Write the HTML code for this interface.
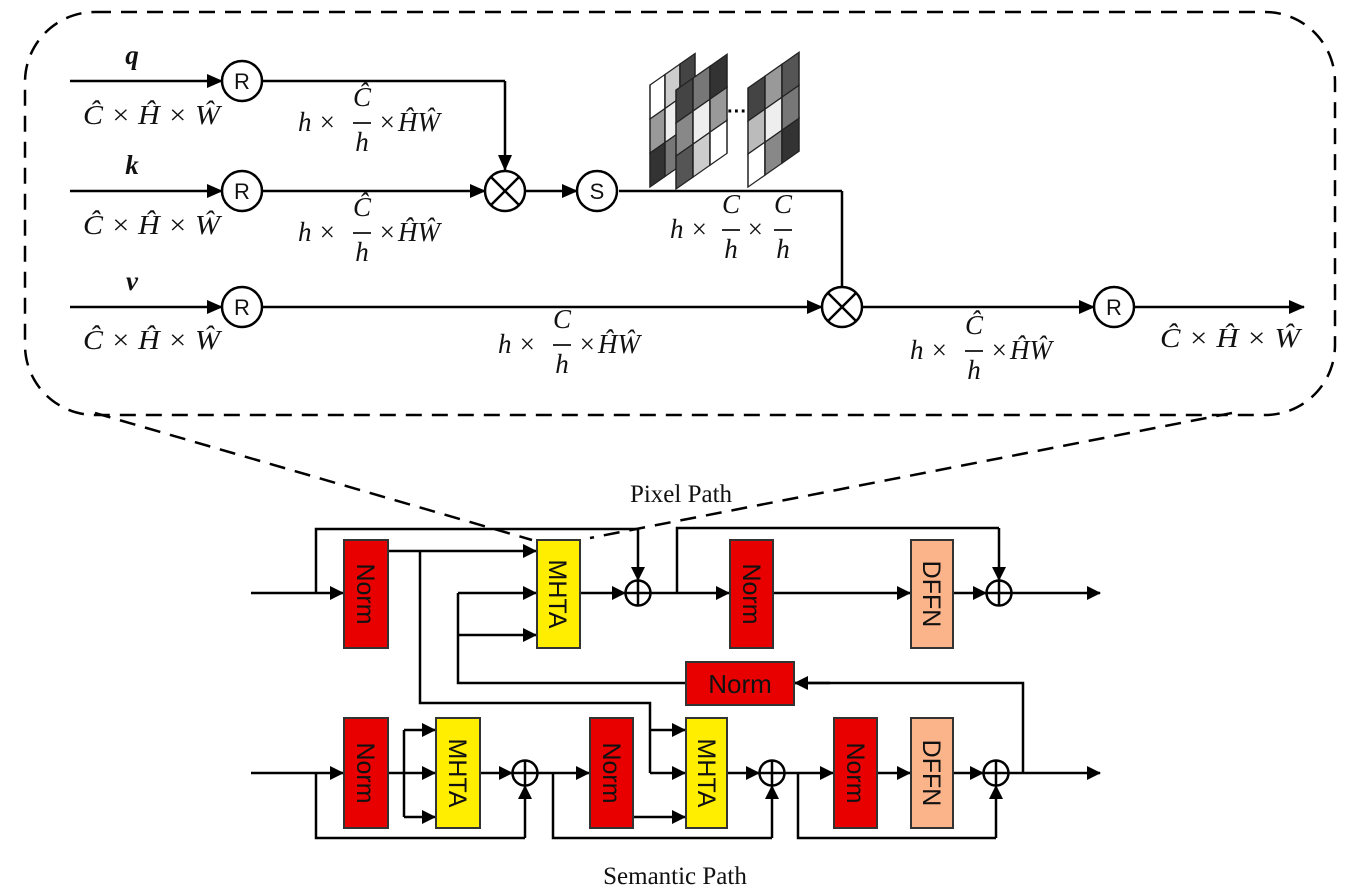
<!DOCTYPE html>
<html><head><meta charset="utf-8"><style>
html,body{margin:0;padding:0;background:#fff;}
svg{display:block;}
.m{font-family:"Liberation Serif",serif;font-style:italic;font-size:27px;fill:#111;}
.b{font-family:"Liberation Sans",sans-serif;font-size:22px;fill:#111;}
.t{font-family:"Liberation Serif",serif;font-size:25px;fill:#111;}
</style></head><body>
<svg width="1347" height="894" viewBox="0 0 1347 894" xmlns="http://www.w3.org/2000/svg">
<defs>
<marker id="a" markerWidth="16" markerHeight="16" refX="15" refY="8" orient="auto" markerUnits="userSpaceOnUse" viewBox="0 0 16 16">
<path d="M0,1 L16,8 L0,15 z" fill="#000"/></marker>
<marker id="s" markerWidth="14" markerHeight="14" refX="13" refY="7" orient="auto" markerUnits="userSpaceOnUse" viewBox="0 0 14 14">
<path d="M0,0 L14,7 L0,14 z" fill="#000"/></marker>
</defs>
<rect x="25" y="12" width="1310" height="403" rx="70" ry="70" fill="none" stroke="#000" stroke-width="2.5" stroke-dasharray="16,10"/>
<line x1="95" y1="413" x2="532" y2="540" stroke="#000" stroke-width="2.5" stroke-dasharray="16,10"/>
<line x1="1232" y1="413" x2="590" y2="538" stroke="#000" stroke-width="2.5" stroke-dasharray="16,10"/>

<g stroke="#000" stroke-width="2.5" fill="none">
<line x1="70" y1="81" x2="222" y2="81" marker-end="url(#a)"/>
<line x1="263" y1="81" x2="505" y2="81"/>
<line x1="505" y1="81" x2="505" y2="170" marker-end="url(#a)"/>
<line x1="70" y1="191" x2="222" y2="191" marker-end="url(#a)"/>
<line x1="263" y1="191" x2="485" y2="191" marker-end="url(#a)"/>
<line x1="526" y1="191" x2="577" y2="191" marker-end="url(#a)"/>
<line x1="619" y1="191" x2="842" y2="191"/>
<line x1="842" y1="191" x2="842" y2="287"/>
<line x1="70" y1="307" x2="222" y2="307" marker-end="url(#a)"/>
<line x1="263" y1="307" x2="822" y2="307" marker-end="url(#a)"/>
<line x1="863" y1="307" x2="1094" y2="307" marker-end="url(#a)"/>
<line x1="1135" y1="307" x2="1304" y2="307" marker-end="url(#a)"/>
<circle cx="242" cy="81" r="20"/><circle cx="242" cy="191" r="20"/><circle cx="242" cy="307" r="20"/>
<circle cx="597" cy="191" r="20"/><circle cx="1114" cy="307" r="20"/>
<circle cx="505" cy="191" r="20"/><circle cx="842" cy="307" r="20"/>
<path d="M491,177 L519,205 M519,177 L491,205"/>
<path d="M828,293 L856,321 M856,293 L828,321"/>
</g>
<g class="b" text-anchor="middle">
<text x="242" y="89">R</text><text x="242" y="199">R</text><text x="242" y="315">R</text>
<text x="597" y="199">S</text><text x="1114" y="315">R</text>
</g>
<text x="132" y="64" class="m" font-weight="bold" text-anchor="middle">q</text>
<text x="132" y="174" class="m" font-weight="bold" text-anchor="middle">k</text>
<text x="132" y="290" class="m" font-weight="bold" text-anchor="middle">v</text>
<g class="m" textLength="140">
<text x="83" y="124" textLength="137" lengthAdjust="spacingAndGlyphs">Ĉ × Ĥ × Ŵ</text>
<text x="83" y="234" textLength="137" lengthAdjust="spacingAndGlyphs">Ĉ × Ĥ × Ŵ</text>
<text x="83" y="349" textLength="137" lengthAdjust="spacingAndGlyphs">Ĉ × Ĥ × Ŵ</text>
<text x="1160" y="347" textLength="140" lengthAdjust="spacingAndGlyphs">Ĉ × Ĥ × Ŵ</text>
</g>

<g class="m">
<!-- q -->
<text x="298" y="131">h</text><text x="318" y="131">×</text><text x="362" y="106" text-anchor="middle">Ĉ</text><line x1="353" y1="123" x2="371" y2="123" stroke="#111" stroke-width="1.8"/><text x="362" y="151" text-anchor="middle">h</text><text x="378" y="131">×</text><text x="398" y="131">ĤŴ</text>
<!-- k -->
<text x="298" y="241">h</text><text x="318" y="241">×</text><text x="362" y="216" text-anchor="middle">Ĉ</text><line x1="353" y1="233" x2="371" y2="233" stroke="#111" stroke-width="1.8"/><text x="362" y="261" text-anchor="middle">h</text><text x="378" y="241">×</text><text x="398" y="241">ĤŴ</text>
<!-- S out -->
<text x="670" y="238">h</text><text x="690" y="238">×</text><text x="731" y="213" text-anchor="middle">C</text><line x1="722" y1="230" x2="740" y2="230" stroke="#111" stroke-width="1.8"/><text x="731" y="258" text-anchor="middle">h</text><text x="746" y="238">×</text><text x="783" y="213" text-anchor="middle">C</text><line x1="774" y1="230" x2="792" y2="230" stroke="#111" stroke-width="1.8"/><text x="783" y="258" text-anchor="middle">h</text>
<!-- v -->
<text x="498" y="353">h</text><text x="518" y="353">×</text><text x="562" y="328" text-anchor="middle">C</text><line x1="553" y1="345" x2="571" y2="345" stroke="#111" stroke-width="1.8"/><text x="562" y="373" text-anchor="middle">h</text><text x="578" y="353">×</text><text x="598" y="353">ĤŴ</text>
<!-- after otimes -->
<text x="910" y="359">h</text><text x="930" y="359">×</text><text x="974" y="334" text-anchor="middle">Ĉ</text><line x1="965" y1="351" x2="983" y2="351" stroke="#111" stroke-width="1.8"/><text x="974" y="379" text-anchor="middle">h</text><text x="990" y="359">×</text><text x="1010" y="359">ĤŴ</text>
</g>

<g stroke="#222" stroke-width="1.5">
<g transform="translate(650,85) skewY(-35)">
<rect x="0" y="0" width="15" height="34" fill="#fff"/><rect x="15" y="0" width="15" height="34" fill="#ccc"/><rect x="30" y="0" width="15" height="34" fill="#444"/>
<rect x="0" y="34" width="15" height="34" fill="#999"/><rect x="15" y="34" width="15" height="34" fill="#eee"/><rect x="30" y="34" width="15" height="34" fill="#666"/>
<rect x="0" y="68" width="15" height="34" fill="#333"/><rect x="15" y="68" width="15" height="34" fill="#777"/><rect x="30" y="68" width="15" height="34" fill="#555"/>
</g>
<g transform="translate(676,90) skewY(-35)">
<rect x="0" y="0" width="17" height="33" fill="#444"/><rect x="17" y="0" width="17" height="33" fill="#777"/><rect x="34" y="0" width="17" height="33" fill="#333"/>
<rect x="0" y="33" width="17" height="33" fill="#888"/><rect x="17" y="33" width="17" height="33" fill="#eee"/><rect x="34" y="33" width="17" height="33" fill="#999"/>
<rect x="0" y="66" width="17" height="33" fill="#555"/><rect x="17" y="66" width="17" height="33" fill="#ccc"/><rect x="34" y="66" width="17" height="33" fill="#fff"/>
</g>
<g transform="translate(748,88) skewY(-35)">
<rect x="0" y="0" width="17" height="33" fill="#444"/><rect x="17" y="0" width="17" height="33" fill="#999"/><rect x="34" y="0" width="17" height="33" fill="#555"/>
<rect x="0" y="33" width="17" height="33" fill="#bbb"/><rect x="17" y="33" width="17" height="33" fill="#eee"/><rect x="34" y="33" width="17" height="33" fill="#777"/>
<rect x="0" y="66" width="17" height="33" fill="#fff"/><rect x="17" y="66" width="17" height="33" fill="#888"/><rect x="34" y="66" width="17" height="33" fill="#333"/>
</g>
</g>
<text x="727" y="118" font-family="Liberation Sans" font-size="20" font-weight="bold">···</text>

<text x="681" y="502" class="t" text-anchor="middle">Pixel Path</text>
<text x="675" y="884" class="t" text-anchor="middle">Semantic Path</text>

<g stroke="#000" stroke-width="2.5" fill="none">
<line x1="251" y1="593" x2="343" y2="593" marker-end="url(#s)"/>
<polyline points="316,593 316,529 638,529"/>
<line x1="638" y1="529" x2="638" y2="580" marker-end="url(#s)"/>
<line x1="388" y1="551" x2="536" y2="551" marker-end="url(#s)"/>
<line x1="458" y1="593" x2="536" y2="593" marker-end="url(#s)"/>
<line x1="458" y1="635" x2="536" y2="635" marker-end="url(#s)"/>
<polyline points="458,593 458,683 686,683"/>
<polyline points="420,551 420,703 650,703 650,773"/>
<line x1="580" y1="593" x2="625" y2="593" marker-end="url(#s)"/>
<line x1="651" y1="593" x2="729" y2="593" marker-end="url(#s)"/>
<polyline points="677,593 677,528 999,528"/>
<line x1="999" y1="528" x2="999" y2="580" marker-end="url(#s)"/>
<line x1="773" y1="593" x2="910" y2="593" marker-end="url(#s)"/>
<line x1="953" y1="593" x2="986" y2="593" marker-end="url(#s)"/>
<line x1="1012" y1="593" x2="1100" y2="593" marker-end="url(#s)"/>
<circle cx="638" cy="593" r="12.5"/><path d="M625.5,593 H650.5 M638,580.5 V605.5"/>
<circle cx="999" cy="593" r="12.5"/><path d="M986.5,593 H1011.5 M999,580.5 V605.5"/>
<polyline points="1023,773 1023,683 795,683"/>
<line x1="830" y1="683" x2="795" y2="683" marker-end="url(#s)"/>

<line x1="251" y1="773" x2="343" y2="773" marker-end="url(#s)"/>
<polyline points="316,773 316,838 525,838"/>
<line x1="525" y1="838" x2="525" y2="786" marker-end="url(#s)"/>
<line x1="388" y1="773" x2="435" y2="773" marker-end="url(#s)"/>
<polyline points="404,773 404,730"/>
<line x1="404" y1="730" x2="435" y2="730" marker-end="url(#s)"/>
<polyline points="404,773 404,817"/>
<line x1="404" y1="817" x2="435" y2="817" marker-end="url(#s)"/>
<line x1="480" y1="773" x2="512" y2="773" marker-end="url(#s)"/>
<line x1="538" y1="773" x2="589" y2="773" marker-end="url(#s)"/>
<polyline points="553,773 553,838 772,838"/>
<line x1="772" y1="838" x2="772" y2="786" marker-end="url(#s)"/>
<line x1="633" y1="817" x2="685" y2="817" marker-end="url(#s)"/>
<line x1="650" y1="730" x2="685" y2="730" marker-end="url(#s)"/>
<line x1="650" y1="773" x2="685" y2="773" marker-end="url(#s)"/>
<line x1="727" y1="773" x2="759" y2="773" marker-end="url(#s)"/>
<line x1="785" y1="773" x2="833" y2="773" marker-end="url(#s)"/>
<polyline points="798,773 798,838 996,838"/>
<line x1="996" y1="838" x2="996" y2="786" marker-end="url(#s)"/>
<line x1="877" y1="773" x2="910" y2="773" marker-end="url(#s)"/>
<line x1="953" y1="773" x2="983" y2="773" marker-end="url(#s)"/>
<line x1="1009" y1="773" x2="1100" y2="773" marker-end="url(#s)"/>
<circle cx="525" cy="773" r="12.5"/><path d="M512.5,773 H537.5 M525,760.5 V785.5"/>
<circle cx="772" cy="773" r="12.5"/><path d="M759.5,773 H784.5 M772,760.5 V785.5"/>
<circle cx="996" cy="773" r="12.5"/><path d="M983.5,773 H1008.5 M996,760.5 V785.5"/>
</g>

<g stroke="#333" stroke-width="2">
<rect x="344" y="540" width="44" height="108" fill="#e80000"/>
<rect x="537" y="540" width="43" height="108" fill="#ffee00"/>
<rect x="730" y="540" width="43" height="108" fill="#e80000"/>
<rect x="911" y="540" width="42" height="108" fill="#fbb48a"/>
<rect x="686" y="662" width="108" height="43" fill="#e80000"/>
<rect x="344" y="718" width="44" height="110" fill="#e80000"/>
<rect x="436" y="718" width="44" height="110" fill="#ffee00"/>
<rect x="590" y="718" width="43" height="110" fill="#e80000"/>
<rect x="686" y="718" width="41" height="110" fill="#ffee00"/>
<rect x="834" y="718" width="43" height="110" fill="#e80000"/>
<rect x="911" y="718" width="42" height="110" fill="#fbb48a"/>
</g>
<g font-family="Liberation Sans,sans-serif" font-size="25" fill="#111" text-anchor="middle">
<text transform="translate(357,594) rotate(90)">Norm</text>
<text transform="translate(549,594) rotate(90)">MHTA</text>
<text transform="translate(743,594) rotate(90)">Norm</text>
<text transform="translate(923,594) rotate(90)">DFFN</text>
<text x="740" y="693" font-size="26">Norm</text>
<text transform="translate(357,773) rotate(90)">Norm</text>
<text transform="translate(449,773) rotate(90)">MHTA</text>
<text transform="translate(603,773) rotate(90)">Norm</text>
<text transform="translate(698,773) rotate(90)">MHTA</text>
<text transform="translate(847,773) rotate(90)">Norm</text>
<text transform="translate(923,773) rotate(90)">DFFN</text>
</g>
</svg>
</body></html>
